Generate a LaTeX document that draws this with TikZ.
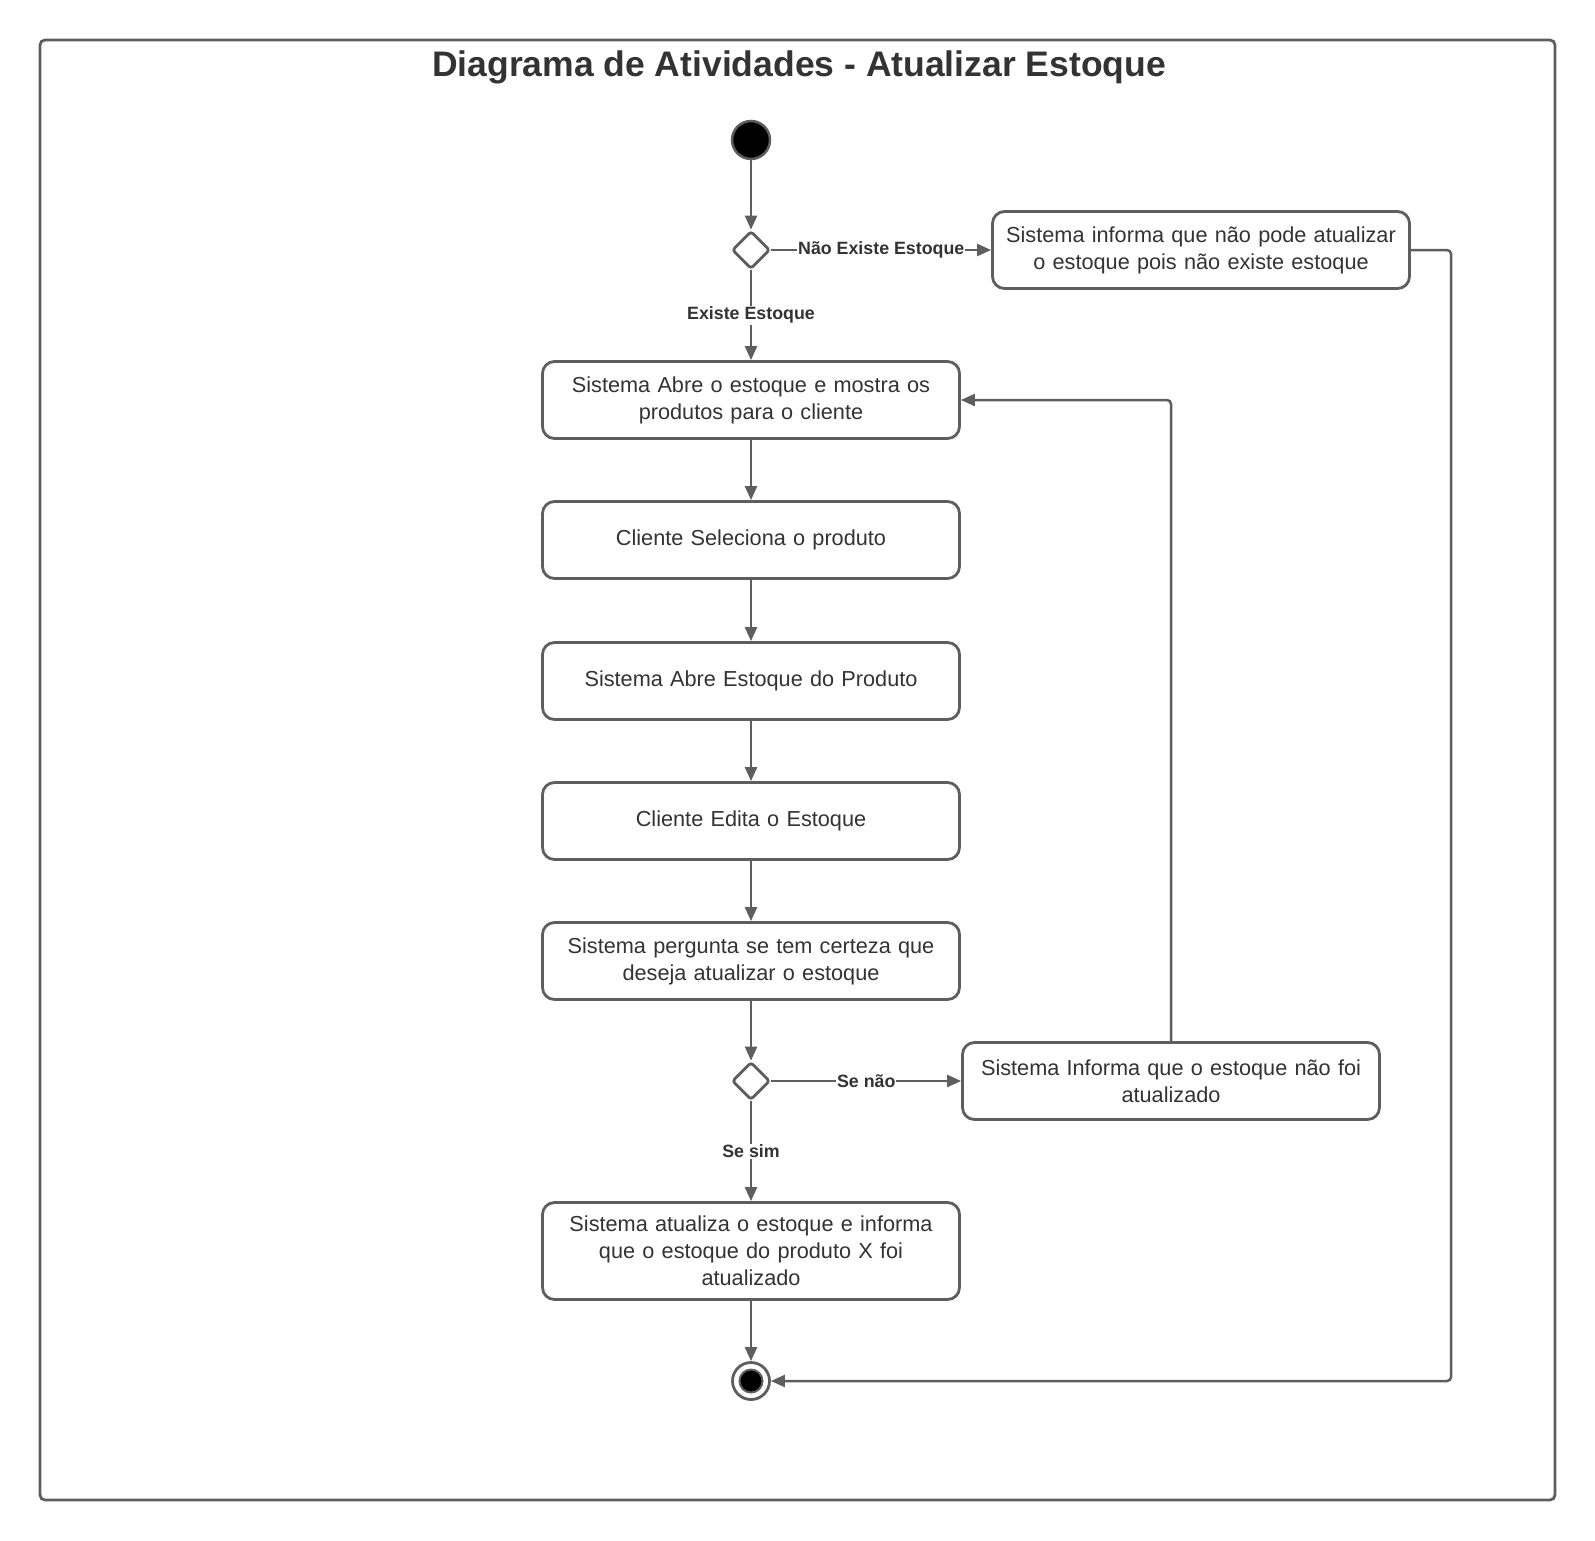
\documentclass[tikz,border=0pt]{standalone}
\usepackage{fontspec}
\setmainfont{Liberation Sans}
\usetikzlibrary{arrows.meta,shapes.geometric}
\definecolor{linec}{HTML}{5E5E5E}
\definecolor{txtc}{HTML}{333333}
\begin{document}
\begin{tikzpicture}[x=1pt,y=-1pt,
 act/.style={draw=linec,line width=2.8pt,rounded corners=12pt,minimum width=417pt,minimum height=77pt,text width=409pt,inner sep=4pt,align=center,font=\fontsize{21.7}{26.8}\selectfont,text=txtc,fill=white},
 conn/.style={draw=linec,line width=2.5pt,-{Triangle[length=14pt,width=12pt]}},
 lbl/.style={font=\bfseries\fontsize{17.8}{20}\selectfont,text=txtc,fill=white,inner sep=1pt},
 decision/.style={diamond,draw=linec,line width=2.8pt,minimum width=38pt,minimum height=38pt,inner sep=0pt,rounded corners=3pt,fill=white},
 frame/.style={draw=linec,line width=2.8pt,rounded corners=5pt,minimum width=1515pt,minimum height=1460pt,inner sep=0pt}]
\useasboundingbox (0,0) rectangle (1595,1540);
\node[frame] (fr) at (797.5,770) {};
\node[font=\bfseries\fontsize{35.5}{40}\selectfont,text=txtc] (title) at (799,67) {Diagrama de Atividades - Atualizar Estoque};
\node[circle,fill=black,draw=linec,line width=2.5pt,minimum size=38pt,inner sep=0pt] (start) at (751,140) {};
\node[decision] (d1) at (751,250) {};
\node[act] (nope) at (1201,250) {Sistema informa que não pode atualizar\\o estoque pois não existe estoque};
\node[act] (b1) at (751,400) {Sistema Abre o estoque e mostra os\\produtos para o cliente};
\node[act] (b2) at (751,540) {Cliente Seleciona o produto};
\node[act] (b3) at (751,681) {Sistema Abre Estoque do Produto};
\node[act] (b4) at (751,821) {Cliente Edita o Estoque};
\node[act] (b5) at (751,961) {Sistema pergunta se tem certeza que\\deseja atualizar o estoque};
\node[decision] (d2) at (751,1081) {};
\node[act] (naofoi) at (1171,1081) {Sistema Informa que o estoque não foi\\atualizado};
\node[act,minimum height=97pt] (b6) at (751,1251) {Sistema atualiza o estoque e informa\\que o estoque do produto X foi\\atualizado};
\node[circle,draw=linec,line width=2.8pt,minimum size=37pt,inner sep=0pt,fill=white] (end) at (751,1381) {};
\node[circle,fill=black,draw=linec,line width=2pt,minimum size=23pt,inner sep=0pt] (endin) at (751,1381) {};
\coordinate (rx) at (1451,0);
\draw[conn] (start) -- (d1);
\draw[conn] (d1) -- node[lbl]{Não Existe Estoque} (nope);
\draw[conn] (d1) -- node[lbl]{Existe Estoque} (b1);
\draw[conn] (b1) -- (b2);
\draw[conn] (b2) -- (b3);
\draw[conn] (b3) -- (b4);
\draw[conn] (b4) -- (b5);
\draw[conn] (b5) -- (d2);
\draw[conn] (d2) -- node[lbl]{Se não} (naofoi);
\draw[conn] (d2) -- node[lbl]{Se sim} (b6);
\draw[conn] (b6) -- (end);
\draw[conn,rounded corners=4pt] (naofoi.north) |- (b1.east);
\draw[conn,rounded corners=4pt] (nope.east) -- (nope.east -| rx) -- (end.east -| rx) -- (end.east);
\end{tikzpicture}
\end{document}
